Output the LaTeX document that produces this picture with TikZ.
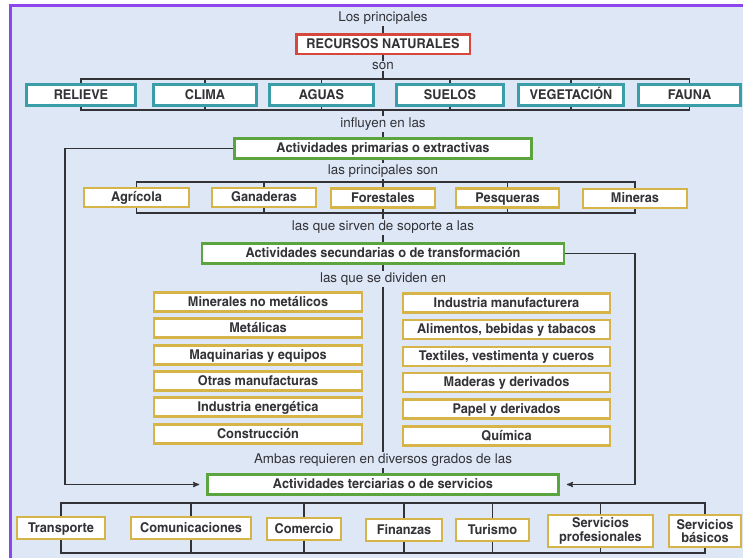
\documentclass[tikz,border=0pt]{standalone}
\usepackage{fontspec}
\setmainfont{TeX Gyre Heros}
\newfontfamily\cnfont{TeX Gyre Heros Cn}[FakeStretch=1.15]
\usepackage{tikz}
\usetikzlibrary{arrows}

\definecolor{fondo}{RGB}{221,231,246}
\definecolor{marco}{RGB}{140,70,235}
\definecolor{rojo}{RGB}{214,72,60}
\definecolor{turq}{RGB}{58,158,168}
\definecolor{verde}{RGB}{92,165,62}
\definecolor{ocre}{RGB}{214,180,72}
\definecolor{tinta}{RGB}{50,50,55}

\begin{document}
\begin{tikzpicture}[x=1pt,y=-1pt,>=stealth',thin]
                \tikzset{every node/.style={text=tinta},
                  caja/.style={draw, fill=white, inner sep=0pt, align=center,
                    text height=11.4pt, text depth=2.6pt,
                    font=\cnfont\bfseries\fontsize{13.5}{13.5}\selectfont},
                  doble/.style={text height={}, text depth={}},
                  cajaroja/.style={caja, draw=rojo, line width=2.5pt, minimum height=19.5pt},
                  cajaazul/.style={caja, draw=turq, line width=3pt, minimum height=21pt},
                  cajaverde/.style={caja, draw=verde, line width=2.6pt, minimum height=20pt},
                  cajaocre/.style={caja, draw=ocre, line width=2.4pt, minimum height=19pt},
                  rotulo/.style={font=\fontsize{13.4}{14}\selectfont, inner sep=1.5pt},
                  linea/.style={draw=tinta, line width=1.2pt}}
                \useasboundingbox (0,0) rectangle (743,558);
                \fill[white] (0,0) rectangle (743,558);
                \fill[fondo] (12,7) rectangle (743,558);
                \draw[marco, line width=3pt] (10.5,558) -- (10.5,5.5) -- (743,5.5);
                % recursos naturales
                \node[rotulo] (LP) at (383,18) {Los principales};
                \node[cajaroja, minimum width=173.5pt] (RN) at (383,44) {RECURSOS NATURALES};
                \node[rotulo] (son) at (383,66) {son};
                \node[cajaazul, minimum width=109pt] (REL) at (81,95) {RELIEVE};
                \node[cajaazul, minimum width=103pt] (CLI) at (205,95) {CLIMA};
                \node[cajaazul, minimum width=104pt] (AGU) at (321.5,95) {AGUAS};
                \node[cajaazul, minimum width=107pt] (SUE) at (450,95) {SUELOS};
                \node[cajaazul, minimum width=105pt] (VEG) at (571,95) {VEGETACIÓN};
                \node[cajaazul, minimum width=102pt] (FAU) at (689.5,95) {FAUNA};
                \node[rotulo] (inf) at (383,124) {influyen en las};
                % primarias
                \node[cajaverde, minimum width=297pt] (PRI) at (383,148.5) {Actividades primarias o extractivas};
                \node[rotulo] (lps) at (383,171) {las principales son};
                \node[cajaocre, minimum width=104.5pt] (AGR) at (136.5,197.5) {Agrícola};
                \node[cajaocre, minimum width=103.5pt] (GAN) at (264,197.5) {Ganaderas};
                \node[cajaocre, minimum width=103.5pt] (FOR) at (383,198) {Forestales};
                \node[cajaocre, minimum width=102.5pt] (PES) at (507.5,198) {Pesqueras};
                \node[cajaocre, minimum width=103.5pt] (MIN) at (635,198.5) {Mineras};
                \node[rotulo] (sop) at (383,227) {las que sirven de soporte a las};
                % secundarias
                \node[cajaverde, minimum width=362pt, minimum height=20.5pt] (SEC) at (383,253.5) {Actividades secundarias o de transformación};
                \node[rotulo] (div) at (383,279) {las que se dividen en};
                \node[cajaocre, minimum width=207.5pt] (MNM) at (258,302) {Minerales no metálicos};
                \node[cajaocre, minimum width=207.5pt] (MET) at (258,328) {Metálicas};
                \node[cajaocre, minimum width=207.5pt] (MAQ) at (258,355) {Maquinarias y equipos};
                \node[cajaocre, minimum width=207.5pt] (OTR) at (258,381) {Otras manufacturas};
                \node[cajaocre, minimum width=207.5pt] (ENE) at (258,407) {Industria energética};
                \node[cajaocre, minimum width=207.5pt] (CON) at (258,434) {Construcción};
                \node[cajaocre, minimum width=206.5pt] (MAN) at (506.5,303) {Industria manufacturera};
                \node[cajaocre, minimum width=206.5pt] (ALI) at (506.5,329.5) {Alimentos, bebidas y tabacos};
                \node[cajaocre, minimum width=206.5pt] (TEX) at (506.5,356.5) {Textiles, vestimenta y cueros};
                \node[cajaocre, minimum width=206.5pt] (MAD) at (506.5,382.5) {Maderas y derivados};
                \node[cajaocre, minimum width=206.5pt] (PAP) at (506.5,409) {Papel y derivados};
                \node[cajaocre, minimum width=206.5pt] (QUI) at (506.5,436) {Química};
                \node[rotulo] (amb) at (383,460) {Ambas requieren en diversos grados de las};
                % terciarias
                \node[cajaverde, minimum width=351pt, minimum height=20.5pt] (TER) at (383,484.5) {Actividades terciarias o de servicios};
                \node[cajaocre, minimum width=87.5pt, minimum height=21.5pt] (TRA) at (61,528) {Transporte};
                \node[cajaocre, minimum width=119.5pt, minimum height=21.5pt] (COM) at (191,528) {Comunicaciones};
                \node[cajaocre, minimum width=73.5pt, minimum height=21.5pt] (CMC) at (304,529) {Comercio};
                \node[cajaocre, minimum width=76.5pt, minimum height=21.5pt] (FIN) at (404,530) {Finanzas};
                \node[cajaocre, minimum width=72.5pt, minimum height=21.5pt] (TUR) at (492.5,530) {Turismo};
                \node[cajaocre, doble, minimum width=104.5pt, minimum height=31.5pt] (SPR) at (600.5,531) {Servicios\\profesionales};
                \node[cajaocre, doble, minimum width=71.5pt, minimum height=31.5pt] (SBA) at (705,531) {Servicios\\básicos};
                % alturas de las llaves y lados de los retornos
                \coordinate (t1) at (0,79);
                \coordinate (b1) at (0,110);
                \coordinate (t2) at (0,182);
                \coordinate (b2) at (0,213);
                \coordinate (t3) at (0,503);
                \coordinate (b3) at (0,553);
                \coordinate (izq) at (65,0);
                \coordinate (der) at (635,0);
                \path[linea] (LP) edge (RN);
                \path[linea] (RN) edge (son);
                \path[linea] (son) edge (son |- t1);
                \path[linea] (inf) edge (inf |- b1);
                \path[linea] (inf) edge (PRI);
                \path[linea] (PRI) edge (lps);
                \path[linea] (lps) edge (lps |- t2);
                \path[linea] (sop) edge (sop |- b2);
                \path[linea] (sop) edge (SEC);
                \path[linea] (SEC) edge (div);
                \path[linea] (div) edge (amb);
                \path[linea] (amb) edge (TER);
                % llave de los recursos
                \draw[linea] (REL.north) |- (FAU.north |- t1) -- (FAU.north);
                \draw[linea] (REL.south) |- (FAU.south |- b1) -- (FAU.south);
                \draw[linea] (CLI.north) -- (CLI.north |- t1) (CLI.south) -- (CLI.south |- b1);
                \draw[linea] (AGU.north) -- (AGU.north |- t1) (AGU.south) -- (AGU.south |- b1);
                \draw[linea] (SUE.north) -- (SUE.north |- t1) (SUE.south) -- (SUE.south |- b1);
                \draw[linea] (VEG.north) -- (VEG.north |- t1) (VEG.south) -- (VEG.south |- b1);
                % llave de las primarias
                \draw[linea] (AGR.north) |- (MIN.north |- t2) -- (MIN.north);
                \draw[linea] (AGR.south) |- (MIN.south |- b2) -- (MIN.south);
                \draw[linea] (GAN.north) -- (GAN.north |- t2) (GAN.south) -- (GAN.south |- b2);
                \draw[linea] (FOR.north) -- (FOR.north |- t2) (FOR.south) -- (FOR.south |- b2);
                \draw[linea] (PES.north) -- (PES.north |- t2) (PES.south) -- (PES.south |- b2);
                % llave de los servicios
                \draw[linea] (TRA.north) |- (SBA.north |- t3) -- (SBA.north);
                \draw[linea] (TRA.south) |- (SBA.south |- b3) -- (SBA.south);
                \draw[linea] (COM.north) -- (COM.north |- t3) (COM.south) -- (COM.south |- b3);
                \draw[linea] (CMC.north) -- (CMC.north |- t3) (CMC.south) -- (CMC.south |- b3);
                \draw[linea] (FIN.north) -- (FIN.north |- t3) (FIN.south) -- (FIN.south |- b3);
                \draw[linea] (TUR.north) -- (TUR.north |- t3) (TUR.south) -- (TUR.south |- b3);
                \draw[linea] (SPR.north) -- (SPR.north |- t3) (SPR.south) -- (SPR.south |- b3);
                % retornos hacia las terciarias
                \draw[linea, ->, shorten >=7pt] (PRI.west) -- (izq |- PRI.west) |- (TER.west);
                \draw[linea, ->, shorten >=7pt] (SEC.east) -- (der |- SEC.east) |- (TER.east);
            \end{tikzpicture}
\end{document}
